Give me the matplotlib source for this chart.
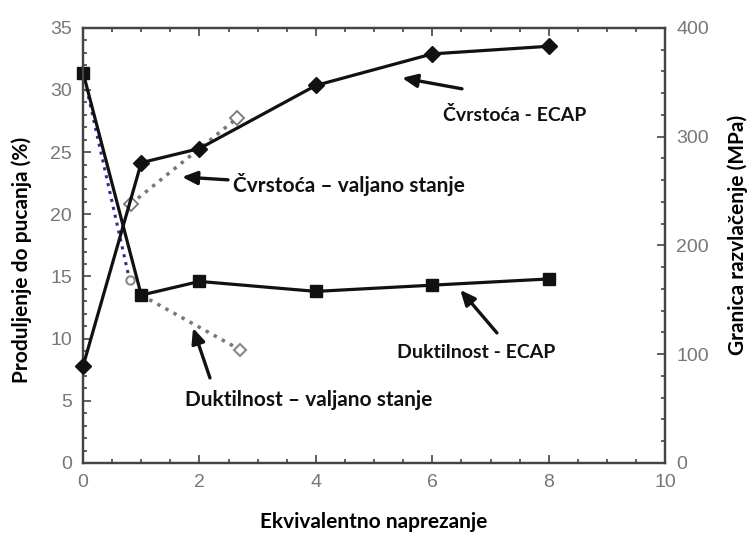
import matplotlib.pyplot as plt
from matplotlib.ticker import MultipleLocator

# data
strain_ecap = [0, 1, 2, 4, 6, 8]
ductility_ecap = [31.4, 13.5, 14.6, 13.8, 14.3, 14.8]
strength_ecap = [89, 276, 289, 347, 376, 383]

strain_rolled_d = [0, 0.8]
ductility_rolled_d = [31.4, 14.7]
strain_rolled_d2 = [1, 2.7]
ductility_rolled_d2 = [13.5, 9.1]

strain_rolled_s = [0.82, 2.0, 2.65]
strength_rolled_s = [238, 289, 317]

label_font = ['Lato', 'DejaVu Sans']
tick_font = ['Liberation Sans Narrow', 'Liberation Sans', 'DejaVu Sans']

fig = plt.figure(figsize=(7.55, 5.34), dpi=100)
ax = fig.add_axes([0.110, 0.133, 0.771, 0.815])
ax2 = ax.twinx()

# ductility (left axis)
ax.plot(strain_rolled_d, ductility_rolled_d, ls=':', color='#2b2b9a', lw=2.2, zorder=2)
ax.plot([strain_rolled_d[-1]], [ductility_rolled_d[-1]], marker='o', ms=6, mfc='white',
        mec='#888888', mew=1.5, ls='none', zorder=3)
ax.plot(strain_rolled_d2, ductility_rolled_d2, ls=':', color='#777777', lw=2.5, zorder=2)
ax.plot([strain_rolled_d2[-1]], [ductility_rolled_d2[-1]], marker='D', ms=6, mfc='white',
        mec='#888888', mew=1.5, ls='none', zorder=3)
ax.plot(strain_ecap, ductility_ecap, color='#111111', lw=2.3, marker='s', ms=9,
        zorder=4, clip_on=False)

# strength (right axis)
ax2.plot(strain_rolled_s, strength_rolled_s, ls=':', color='#777777', lw=2.5, zorder=2)
ax2.plot(strain_rolled_s[::2], strength_rolled_s[::2], marker='D', ms=7.5, mfc='white',
         mec='#777777', mew=1.3, ls='none', zorder=3)
ax2.plot(strain_ecap, strength_ecap, color='#111111', lw=2.3, marker='D', ms=8,
         zorder=4, clip_on=False)

ax.set_xlim(0, 10)
ax.set_ylim(0, 35)
ax2.set_ylim(0, 400)

ax.xaxis.set_major_locator(MultipleLocator(2))
ax.xaxis.set_minor_locator(MultipleLocator(0.5))
ax.yaxis.set_major_locator(MultipleLocator(5))
ax.yaxis.set_minor_locator(MultipleLocator(1))
ax2.yaxis.set_major_locator(MultipleLocator(100))
ax2.yaxis.set_minor_locator(MultipleLocator(20))

for a in (ax, ax2):
    for s in a.spines.values():
        s.set_color('#444444')
        s.set_linewidth(1.6)
    a.tick_params(which='major', direction='in', length=6, width=1.2, color='#444444',
                  labelcolor='#777777', labelsize=14, pad=8)
    a.tick_params(which='minor', direction='in', length=3, width=1.2, color='#444444')
ax.tick_params(which='both', top=True)
for lab in ax.get_xticklabels() + ax.get_yticklabels() + ax2.get_yticklabels():
    lab.set_family(tick_font)

ax.set_xlabel('Ekvivalentno naprezanje', family=label_font, fontweight='bold',
              fontsize=15, va='center')
ax.xaxis.set_label_coords(0.5, -0.136)
ax.set_ylabel('Produljenje do pucanja (%)', family=label_font, fontweight='bold',
              fontsize=15, va='center')
ax.yaxis.set_label_coords(-0.105, 0.467)
ax2.set_ylabel('Granica razvlačenje (MPa)', family=label_font, fontweight='bold',
               fontsize=15, va='center')
ax2.yaxis.set_label_coords(1.125, 0.524)

arrow = dict(arrowstyle='-|>,head_length=0.9,head_width=0.4', color='#111111', lw=2.4,
             shrinkA=0, shrinkB=0)
notes = [
    ('Čvrstoća - ECAP', (5.48, 30.97), (6.51, 30.09), (7.41, 28.0), 'center', 14),
    ('Čvrstoća – valjano stanje', (1.70, 23.0), (2.49, 22.77), (2.58, 22.4), 'left', 15),
    ('Duktilnost - ECAP', (6.48, 13.92), (7.11, 10.46), (6.75, 8.9), 'center', 14),
    ('Duktilnost – valjano stanje', (1.89, 10.86), (2.18, 6.84), (3.88, 5.07), 'center', 15),
]
for text, head, tail, pos, ha, size in notes:
    ax.annotate('', xy=head, xytext=tail, arrowprops=arrow, zorder=5)
    ax.text(pos[0], pos[1], text, ha=ha, va='center', family=label_font,
            fontweight='bold', fontsize=size, color='#111111')

fig.savefig('out.png', dpi=100)
